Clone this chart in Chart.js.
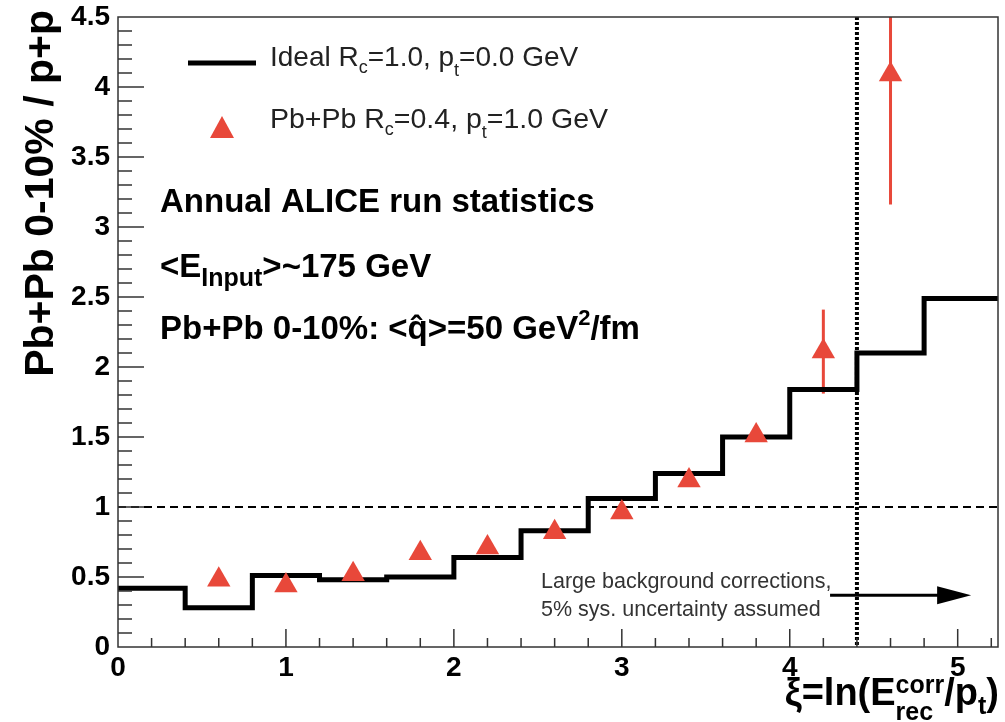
<!DOCTYPE html>
<html lang="en">
<head>
    <meta charset="UTF-8">
    <title>Pb+Pb / p+p ratio vs xi</title>
    <script src="https://cdn.jsdelivr.net/npm/chart.js"></script>
    <style>
        html, body { margin: 0; padding: 0; background: #fff; }
        #wrap { width: 1005px; height: 722px; }
    </style>
</head>
<body>
    <div id="wrap"><canvas id="ratioChart" width="1005" height="722"></canvas></div>

    <script>
        // Ideal histogram (black steps), bin edges and contents
        const binEdges = [0, 0.4, 0.8, 1.2, 1.6, 2.0, 2.4, 2.8, 3.2, 3.6, 4.0, 4.4, 4.8, 5.6];
        const idealValues = [0.42, 0.28, 0.51, 0.48, 0.50, 0.64, 0.83, 1.06, 1.24, 1.50, 1.84, 2.10, 2.49];

        // Pb+Pb points (red triangles)
        const pbpbX = [0.6, 1.0, 1.4, 1.8, 2.2, 2.6, 3.0, 3.4, 3.8, 4.2, 4.6];
        const pbpbY = [0.48, 0.44, 0.52, 0.67, 0.71, 0.82, 0.96, 1.19, 1.51, 2.11, 4.09];
        const pbpbErr = [0, 0, 0, 0, 0, 0, 0, 0, 0, 0.30, 0.93];

        const xTicks = [0, 1, 2, 3, 4, 5];
        const yTicks = [0, 0.5, 1, 1.5, 2, 2.5, 3, 3.5, 4, 4.5];
        const xMax = 5.24, yMax = 4.5;
        const cutX = 4.4;            // dotted vertical line
        const arrowFrom = [4.24, 0.37], arrowTo = [5.08, 0.37];

        const RED = '#e8483a';
        const FONT = '"Liberation Sans", Arial, Helvetica, sans-serif';

        const histPoints = binEdges.map((e, i) => ({ x: e, y: idealValues[Math.min(i, idealValues.length - 1)] }));
        const pbpbPoints = pbpbX.map((x, i) => ({ x: x, y: pbpbY[i] }));

        // draw text made of pieces: {t, s (size), b (bold), dy, stack:[sup, sub]}
        function richText(ctx, x, y, parts, align) {
            const widths = parts.map(p => {
                ctx.font = (p.b ? 'bold ' : '') + p.s + 'px ' + FONT;
                if (p.stack) {
                    return Math.max(ctx.measureText(p.stack[0]).width, ctx.measureText(p.stack[1]).width);
                }
                return ctx.measureText(p.t).width;
            });
            let cx = x;
            if (align === 'right') cx = x - widths.reduce((a, b) => a + b, 0);
            ctx.textAlign = 'left';
            ctx.textBaseline = 'alphabetic';
            parts.forEach((p, i) => {
                ctx.font = (p.b ? 'bold ' : '') + p.s + 'px ' + FONT;
                if (p.stack) {
                    ctx.fillText(p.stack[0], cx, y + p.up);
                    ctx.fillText(p.stack[1], cx, y + p.down);
                } else {
                    ctx.fillText(p.t, cx, y + (p.dy || 0));
                }
                cx += widths[i];
            });
        }

        const decorPlugin = {
            id: 'decor',
            beforeDatasetsDraw(chart) {
                const ctx = chart.ctx, a = chart.chartArea;
                const xs = chart.scales.x, ys = chart.scales.y;
                ctx.save();
                ctx.beginPath();
                ctx.rect(a.left, a.top, a.right - a.left, a.bottom - a.top);
                ctx.clip();
                // dashed line at 1
                ctx.strokeStyle = '#000';
                ctx.lineWidth = 2;
                ctx.setLineDash([8, 5]);
                ctx.beginPath();
                ctx.moveTo(a.left, ys.getPixelForValue(1));
                ctx.lineTo(a.right, ys.getPixelForValue(1));
                ctx.stroke();
                // dotted vertical cut
                ctx.lineWidth = 4;
                ctx.setLineDash([3, 2]);
                ctx.beginPath();
                ctx.moveTo(xs.getPixelForValue(cutX), a.top);
                ctx.lineTo(xs.getPixelForValue(cutX), a.bottom);
                ctx.stroke();
                ctx.setLineDash([]);
                // error bars
                ctx.strokeStyle = RED;
                ctx.lineWidth = 3;
                pbpbX.forEach((x, i) => {
                    if (!pbpbErr[i]) return;
                    const px = xs.getPixelForValue(x);
                    ctx.beginPath();
                    ctx.moveTo(px, ys.getPixelForValue(pbpbY[i] - pbpbErr[i]));
                    ctx.lineTo(px, ys.getPixelForValue(pbpbY[i] + pbpbErr[i]));
                    ctx.stroke();
                });
                // arrow
                const x0 = xs.getPixelForValue(arrowFrom[0]), y0 = ys.getPixelForValue(arrowFrom[1]);
                const x1 = xs.getPixelForValue(arrowTo[0]);
                ctx.strokeStyle = '#000';
                ctx.fillStyle = '#000';
                ctx.lineWidth = 3;
                ctx.beginPath();
                ctx.moveTo(x0, y0);
                ctx.lineTo(x1 - 20, y0);
                ctx.stroke();
                ctx.beginPath();
                ctx.moveTo(x1, y0);
                ctx.lineTo(x1 - 34, y0 - 9);
                ctx.lineTo(x1 - 34, y0 + 9);
                ctx.closePath();
                ctx.fill();
                ctx.restore();
            },
            afterDraw(chart) {
                const ctx = chart.ctx, a = chart.chartArea;
                const xs = chart.scales.x, ys = chart.scales.y;
                ctx.save();
                // frame
                ctx.strokeStyle = '#333';
                ctx.lineWidth = 1.5;
                ctx.strokeRect(a.left, a.top, a.right - a.left, a.bottom - a.top);
                // inner ticks
                ctx.beginPath();
                for (let k = 1; k < 45; k++) {
                    const py = ys.getPixelForValue(k / 10);
                    const len = k % 5 === 0 ? 26 : 14;
                    ctx.moveTo(a.left, py);
                    ctx.lineTo(a.left + len, py);
                }
                for (let k = 1; k <= 26; k++) {
                    const px = xs.getPixelForValue(k / 5);
                    const len = k % 5 === 0 ? 18 : 9;
                    ctx.moveTo(px, a.bottom);
                    ctx.lineTo(px, a.bottom - len);
                }
                ctx.stroke();

                ctx.fillStyle = '#000';
                // axis titles
                ctx.save();
                ctx.translate(53, 10);
                ctx.rotate(-Math.PI / 2);
                ctx.font = 'bold 41px ' + FONT;
                ctx.textAlign = 'right';
                ctx.textBaseline = 'alphabetic';
                ctx.fillText('Pb+Pb 0-10% / p+p', 0, 0);
                ctx.restore();

                richText(ctx, 999, 705, [
                    { t: '\u03BE=ln(E', s: 38, b: true },
                    { stack: ['corr', 'rec'], s: 25, b: true, up: -12, down: 15 },
                    { t: '/p', s: 38, b: true },
                    { t: 't', s: 25, b: true, dy: 9 },
                    { t: ')', s: 38, b: true }
                ], 'right');

                // legend
                ctx.lineWidth = 5;
                ctx.strokeStyle = '#000';
                ctx.beginPath();
                ctx.moveTo(188, 63);
                ctx.lineTo(256, 63);
                ctx.stroke();
                ctx.fillStyle = RED;
                ctx.beginPath();
                ctx.moveTo(222, 116);
                ctx.lineTo(234, 138);
                ctx.lineTo(210, 138);
                ctx.closePath();
                ctx.fill();

                ctx.fillStyle = '#222';
                richText(ctx, 270, 66, [
                    { t: 'Ideal R', s: 28 }, { t: 'c', s: 18, dy: 7 }, { t: '=1.0, p', s: 28 },
                    { t: 't', s: 18, dy: 10 }, { t: '=0.0 GeV', s: 28 }
                ]);
                richText(ctx, 270, 128, [
                    { t: 'Pb+Pb R', s: 28.5 }, { t: 'c', s: 18, dy: 7 }, { t: '=0.4, p', s: 28.5 },
                    { t: 't', s: 18, dy: 10 }, { t: '=1.0 GeV', s: 28.5 }
                ]);

                ctx.fillStyle = '#000';
                richText(ctx, 160, 212, [{ t: 'Annual ALICE run statistics', s: 33, b: true }]);
                richText(ctx, 160, 277, [
                    { t: '<E', s: 33, b: true }, { t: 'Input', s: 25, b: true, dy: 9 },
                    { t: '>~175 GeV', s: 33, b: true }
                ]);
                richText(ctx, 160, 339, [
                    { t: 'Pb+Pb 0-10%: <q\u0302>=50 GeV', s: 33, b: true },
                    { t: '2', s: 22, b: true, dy: -14 }, { t: '/fm', s: 33, b: true }
                ]);

                ctx.fillStyle = '#333';
                richText(ctx, 541, 588, [{ t: 'Large background corrections,', s: 21.5 }]);
                richText(ctx, 541, 616, [{ t: '5% sys. uncertainty assumed', s: 21.5 }]);
                ctx.restore();
            }
        };

        const ctx = document.getElementById('ratioChart').getContext('2d');
        new Chart(ctx, {
            type: 'scatter',
            data: {
                datasets: [{
                    label: 'Ideal Rc=1.0, pt=0.0 GeV',
                    type: 'line',
                    data: histPoints,
                    stepped: 'before',
                    borderColor: '#000',
                    borderWidth: 5,
                    pointRadius: 0,
                    fill: false,
                    clip: 0,
                    order: 2
                }, {
                    label: 'Pb+Pb Rc=0.4, pt=1.0 GeV',
                    data: pbpbPoints,
                    pointStyle: 'triangle',
                    pointRadius: 13.5,
                    backgroundColor: RED,
                    borderColor: RED,
                    borderWidth: 0,
                    order: 1
                }]
            },
            options: {
                responsive: false,
                animation: false,
                layout: { autoPadding: false, padding: { top: 17, right: 7, left: 0, bottom: 0 } },
                plugins: { legend: { display: false }, tooltip: { enabled: false } },
                scales: {
                    x: {
                        type: 'linear',
                        min: 0,
                        max: xMax,
                        afterBuildTicks: s => { s.ticks = xTicks.map(v => ({ value: v })); },
                        afterFit: s => { s.height = 75; s.paddingLeft = 0; s.paddingRight = 0; },
                        grid: { display: false, drawTicks: false },
                        border: { display: false },
                        ticks: {
                            padding: 4,
                            color: '#000',
                            font: { family: FONT, size: 28, weight: 'bold' },
                            maxRotation: 0,
                            autoSkip: false
                        }
                    },
                    y: {
                        type: 'linear',
                        min: 0,
                        max: yMax,
                        afterBuildTicks: s => { s.ticks = yTicks.map(v => ({ value: v })); },
                        afterFit: s => { s.width = 118; s.paddingTop = 0; s.paddingBottom = 0; },
                        grid: { display: false, drawTicks: false },
                        border: { display: false },
                        ticks: {
                            padding: 8,
                            color: '#000',
                            font: { family: FONT, size: 28, weight: 'bold' },
                            callback: v => String(v)
                        }
                    }
                }
            },
            plugins: [decorPlugin]
        });
    </script>
</body>
</html>
